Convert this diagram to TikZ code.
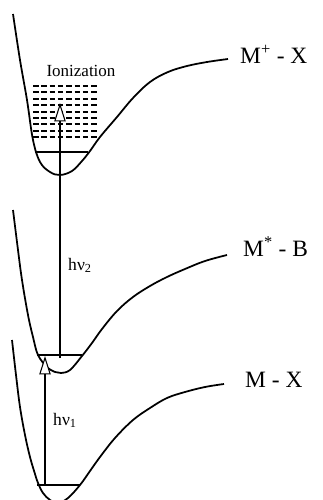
\documentclass[tikz,border=0pt]{standalone}
\usepackage{fontspec}
\setmainfont{Liberation Serif}
\usetikzlibrary{arrows.meta}
\tikzset{
  pot/.style={line width=1.5pt, line join=round},
  lev/.style={line width=1.2pt},
  exc/.style={line width=0.9pt, -{Triangle[fill=white, length=5.5mm, width=3.4mm, line width=0.9pt]}},
  ion/.style={line width=1.8pt, dash pattern=on 1.65mm off 0.84mm},
  state/.style={font=\fontsize{20}{23}\selectfont, anchor=base west, inner sep=0pt},
  photon/.style={font=\fontsize{15}{17}\selectfont, anchor=base west, inner sep=0pt},
}

\begin{document}
\begin{tikzpicture}[x=0.03cm, y=-0.03cm]
\clip (0,0) rectangle (322,500);

% potential curves
\draw[pot] plot[smooth, tension=0.6] coordinates {(13,14) (20,60) (27,100) (33,140) (40,162) (50,172) (60,175) (72,171) (82,161) (90,151) (100,137) (117,117) (133,98) (150,82) (168,72) (187,66) (207,62) (228,59)};
\draw[pot] plot[smooth, tension=0.6] coordinates {(13,210) (18,250) (22,280) (28,315) (33,337) (38,355) (47,367) (55,372) (61,373) (70,370) (82,356) (92,343) (102,329) (117,311) (133,297) (150,286) (167,277) (185,269) (205,261) (227,255)};
\draw[pot] plot[smooth, tension=0.6] coordinates {(12,340) (16,375) (20,407) (25,435) (30,457) (35,474) (38,483) (43,493) (50,500) (58,503) (68,498) (80,485) (90,471) (100,457) (115,438) (133,420) (150,408) (167,398) (185,392) (205,387) (224,384)};

% vibrational levels
\coordinate (ionL) at (35,152);  \coordinate (ionR) at (88,152);
\coordinate (excL) at (37,355);  \coordinate (excR) at (82,355);
\coordinate (grdL) at (37,485);  \coordinate (grdR) at (80,485);
\draw[lev] (ionL) -- (ionR);
\draw[lev] (excL) -- (excR);
\draw[lev] (grdL) -- (grdR);

% ionization continuum
\foreach \i in {0,...,8} \draw[ion] (33,86+6.4*\i) -- (98,86+6.4*\i);
\node[font=\fontsize{14.5}{16}\selectfont, inner sep=0pt] (ionz) at (81,71) {Ionization};

% excitation steps
\coordinate (g0) at (45,485);
\coordinate (e1) at (45,356);
\coordinate (e0) at (60,358);
\coordinate (i1) at (60,103);
\draw[exc] (g0) -- (e1);
\draw[exc] (e0) -- (i1);
\node[photon] (hv1) at (53,425) {hν\textsubscript{1}};
\node[photon] (hv2) at (68,270) {hν\textsubscript{2}};

% state labels
\node[state] (mpx) at (240,63) {M\textsuperscript{+} - X};
\node[state] (msb) at (243,256) {M\textsuperscript{*} - B};
\node[state] (mx) at (245,387) {M - X};

\end{tikzpicture}
\end{document}
